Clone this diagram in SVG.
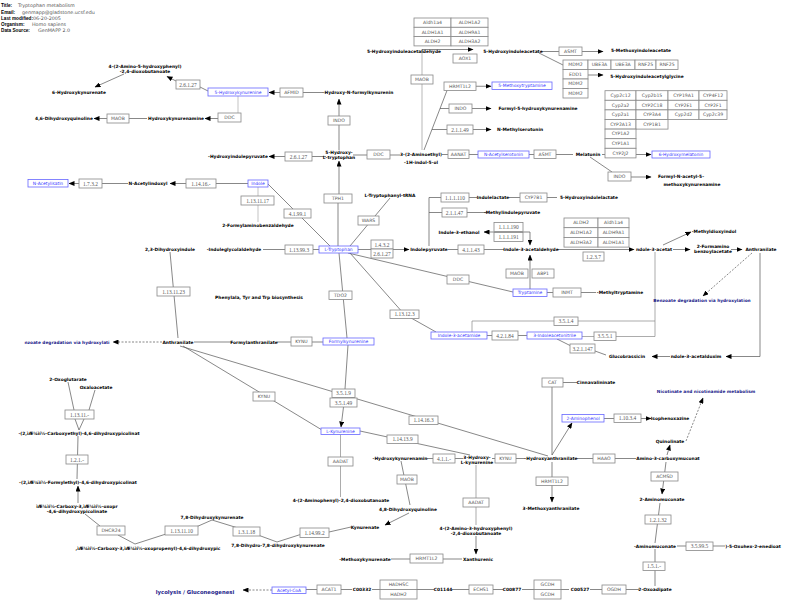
<svg xmlns="http://www.w3.org/2000/svg" width="788" height="606" viewBox="0 0 788 606">
<style>
text{font-family:"DejaVu Sans",sans-serif;text-anchor:middle;dominant-baseline:central}
.m text{font-size:4.4px;font-weight:bold;fill:#000}
.g rect{fill:#fff;stroke:#888;stroke-width:0.8}
.g text{font-size:4.6px;fill:#555}
.e text{font-family:"Liberation Serif",serif;font-size:5.4px}
.b rect{fill:#fff;stroke:#66f;stroke-width:0.8}
.b text{font-size:4.4px;fill:#33f}
.p text{font-size:4.3px;font-weight:bold;fill:#22228a}
.h text{text-anchor:start;dominant-baseline:auto;font-size:4.8px;fill:#555}
.h .k{font-family:"Liberation Sans",Arial,sans-serif;font-size:4.7px;font-weight:bold;fill:#000}
#conn path{fill:none;stroke:#555;stroke-width:0.7}
#conn .a{marker-end:url(#ah)}
#conn .d{stroke-dasharray:2,1.5}
</style>
<defs>
<marker id="ah" markerUnits="userSpaceOnUse" markerWidth="6" markerHeight="5" refX="5.5" refY="2.5" orient="auto"><path d="M0,0 L6,2.5 L0,5 z" fill="#000"/></marker>
</defs>
<rect width="788" height="606" fill="#fff"/>
<g id="header" class="h">
<text x="1" y="7"><tspan class="k">Title:</tspan><tspan x="18">Tryptophan metabolism</tspan></text>
<text x="1" y="13.5"><tspan class="k">Email:</tspan><tspan x="22">genmapp@gladstone.ucsf.edu</tspan></text>
<text x="1" y="19.5"><tspan class="k">Last modified:</tspan><tspan x="33">06-20-2005</tspan></text>
<text x="1" y="26"><tspan class="k">Organism:</tspan><tspan x="32">Homo sapiens</tspan></text>
<text x="1" y="32"><tspan class="k">Data Source:</tspan><tspan x="38">GenMAPP 2.0</tspan></text>
</g>
<g id="conn">
<path d="M200,87 L208,91"/>
<path d="M303,92.5 L323,92.5"/>
<path d="M238,96 L238,113" style="stroke:#aaa"/>
<path d="M147,118.5 L129,118.5"/>
<path d="M339,150 L339,125"/>
<path d="M312,156.5 L326,156.5"/>
<path d="M353,155 L367,155"/>
<path d="M390,155 L400,155"/>
<path d="M442,154.5 L448,154.5"/>
<path d="M469,154.5 L478,154.5"/>
<path d="M529,154.5 L534,154.5"/>
<path d="M556,154.5 L573,154.5"/>
<path d="M602,154.5 L605,154.5"/>
<path d="M590,157 L612,172"/>
<path d="M422,49.5 L422,150" style="stroke:#999"/>
<path d="M541,51.5 L559,51.5"/>
<path d="M539,53 L563,65"/>
<path d="M424,150 L447,90.5"/>
<path d="M440,108.5 L449,108.5"/>
<path d="M432,129.5 L447,129.5"/>
<path d="M248,183.5 L216,183.5"/>
<path d="M128,183.5 L102,183.5"/>
<path d="M258,187 L258,222" style="stroke:#aaa"/>
<path d="M268,184 L330,246"/>
<path d="M338,203 L338,246"/>
<path d="M390,198 L350,246"/>
<path d="M319,249.5 L263,249.5"/>
<path d="M358,249.5 L371,249.5"/>
<path d="M429,197.5 L429,246 M429,197.5 L441,197.5 M429,212.5 L442,212.5"/>
<path d="M469,197.5 L477,197.5 M509,197.5 L520,197.5 M547,197.5 L557,197.5"/>
<path d="M467,212.5 L487,212.5"/>
<path d="M448,249.5 L504,249.5"/>
<path d="M348,253 L513,292"/>
<path d="M547,292.5 L596,292.5"/>
<path d="M350,253 L404,314 L436,332"/>
<path d="M487,335.5 L527,335.5"/>
<path d="M472,332 L472,321 L655,321" style="stroke:#888"/>
<path d="M582,336.5 L655,336.5 M655,252 L655,336.5" style="stroke:#888"/>
<path d="M557,339 L571,346 M595,351 L606,355"/>
<path class="a" d="M760,253 L760,356.5 L726,356.5"/>
<path class="a" d="M670,356.5 L652,356.5"/>
<path d="M170,252 L178,338"/>
<path d="M194,342 L231,342 M277,342 L323,342"/>
<path d="M348,345 L345,389"/>
<path d="M339,253 L347,338"/>
<path d="M180,346 L548,456"/>
<path d="M183,346 L322,430"/>
<path d="M360,431 L470,455"/>
<path d="M340.5,434.5 L340.5,497" style="stroke:#888"/>
<path d="M427,458.5 L463,458.5 M492,458.5 L525,458.5"/>
<path d="M401,461 L410,505"/>
<path d="M476,465 L476,525" style="stroke:#888"/>
<path d="M462,559 L391,559"/>
<path d="M552,387 L552,455"/>
<path d="M563,382.5 L577,382.5"/>
<path d="M577,458.5 L636,458.5"/>
<path d="M660,503 L655,543"/>
<path d="M677,546 L725,546"/>
<path d="M655,549 L655,586"/>
<path d="M306,589.5 L352,589.5 M372,589.5 L434,589.5 M452,589.5 L503,589.5 M522,589.5 L569,589.5 M590,589.5 L639,589.5"/>
<path d="M68,382 L74,410 M95,390 L89,410 M75,419 L79,430 M84,419 L79,430"/>
<path d="M78,436 L77,479"/>
<path d="M85,514 L100,526 M118,535 L135,544 L166,534"/>
<path d="M196,527 L212,520 L238,528 M258,535 L277,542 L302,534 M329,532 L351,527"/>
<path class="a" d="M176,81 L167,76.5"/>
<path class="a" d="M124,74 L95,87"/>
<path class="a" d="M280,92.5 L269,92.5"/>
<path class="a" d="M218,118.5 L205,118.5"/>
<path class="a" d="M107,118.5 L94,118.5"/>
<path class="a" d="M339,116 L339,99"/>
<path class="a" d="M285,156.5 L269,156.5"/>
<path class="a" d="M339,194 L339,161"/>
<path class="a" d="M636,154.5 L651,154.5"/>
<path class="a" d="M631,177 L651,177"/>
<path class="a" d="M422,49.5 L473,49.5"/>
<path class="a" d="M582,51.5 L603,51.5"/>
<path class="a" d="M588,75 L603,75"/>
<path class="a" d="M476,86.25 L491,86.25"/>
<path class="a" d="M472,108.5 L491,108.5"/>
<path class="a" d="M473,129.5 L491,129.5"/>
<path class="a" d="M186,183.5 L170,183.5"/>
<path class="a" d="M79,183.5 L69,183.5"/>
<path class="a" d="M393,249.5 L409,249.5"/>
<path class="a" d="M530,232 L530,245"/>
<path class="a" d="M530,232 L484,232"/>
<path class="a" d="M530,289 L530,255"/>
<path class="a" d="M557,249.5 L634,249.5"/>
<path class="a" d="M663,245 L691,232"/>
<path class="a" d="M673,249.5 L690,249.5"/>
<path class="a" d="M731,249.5 L742,249.5"/>
<path class="a" d="M343.5,407 L341,427"/>
<path class="a" d="M409,513 L385,525"/>
<path class="a" d="M476,536 L476,554"/>
<path class="a" d="M552,455 L572,423"/>
<path class="a" d="M552,462 L552,502"/>
<path class="a" d="M604,418.5 L651,418.5"/>
<path class="a" d="M667,455 L670,445"/>
<path class="a" d="M666,462 L662,494"/>
<path class="a" d="M78,503 L78,486"/>
<path class="a d" d="M752,253 L703,296"/>
<path class="a d" d="M162,342 L113,342"/>
<path class="a d" d="M686,441 L703,398"/>
<path class="a d" d="M272,590 L243,590"/>
</g>
<g id="n_261a" class="g e"><rect x="176" y="80" width="24" height="9"/><text x="188" y="84.5">2.6.1.27</text></g>
<g id="n_maob1" class="g"><rect x="107" y="114" width="22" height="9"/><text x="118" y="118.5">MAOB</text></g>
<g id="n_1732" class="g e"><rect x="79" y="179" width="23" height="9"/><text x="90.5" y="183.5">1.7.3.2</text></g>
<g id="n_11416" class="g e"><rect x="186" y="179" width="30" height="9"/><text x="201" y="183.5">1.14.16.-</text></g>
<g id="n_ddc1" class="g"><rect x="218" y="113" width="23" height="9"/><text x="229.5" y="117.5">DDC</text></g>
<g id="n_afmid" class="g"><rect x="280" y="88" width="23" height="9"/><text x="291.5" y="92.5">AFMID</text></g>
<g id="n_indo1" class="g"><rect x="328" y="116" width="22" height="9"/><text x="339" y="120.5">INDO</text></g>
<g id="n_261b" class="g e"><rect x="285" y="152" width="27" height="9"/><text x="298.5" y="156.5">2.6.1.27</text></g>
<g id="n_ddc2" class="g"><rect x="367" y="150" width="23" height="9"/><text x="378.5" y="154.5">DDC</text></g>
<g id="n_tph1" class="g"><rect x="324" y="194" width="28" height="9"/><text x="338" y="198.5">TPH1</text></g>
<g id="n_1131117" class="g e"><rect x="241" y="196" width="33" height="9"/><text x="257.5" y="200.5">1.13.11.17</text></g>
<g id="n_aldhgrid1" class="g">
<rect x="414" y="18" width="37" height="9.3"/><text x="432.5" y="22.7">Aldh1a4</text>
<rect x="451" y="18" width="37" height="9.3"/><text x="469.5" y="22.7">ALDH1A2</text>
<rect x="414" y="27.3" width="37" height="9.3"/><text x="432.5" y="32">ALDH1A1</text>
<rect x="451" y="27.3" width="37" height="9.3"/><text x="469.5" y="32">ALDH9A1</text>
<rect x="414" y="36.6" width="37" height="9.3"/><text x="432.5" y="41.3">ALDH2</text>
<rect x="451" y="36.6" width="37" height="9.3"/><text x="469.5" y="41.3">ALDH3A2</text>
</g>
<g id="n_aox1" class="g"><rect x="453" y="54" width="24" height="9"/><text x="465" y="58.5">AOX1</text></g>
<g id="n_maob2" class="g"><rect x="411" y="75" width="22" height="9"/><text x="422" y="79.5">MAOB</text></g>
<g id="n_hrmt1" class="g"><rect x="444" y="82" width="32" height="8.5"/><text x="460" y="86.25">HRMT1L2</text></g>
<g id="n_indo2" class="g"><rect x="449" y="104" width="23" height="9"/><text x="460.5" y="108.5">INDO</text></g>
<g id="n_21149" class="g e"><rect x="447" y="125" width="26" height="9"/><text x="460" y="129.5">2.1.1.49</text></g>
<g id="n_aanat" class="g"><rect x="448" y="150" width="21" height="8.5"/><text x="458.5" y="154.25">AANAT</text></g>
<g id="n_asmt1" class="g"><rect x="534" y="150" width="22" height="8.5"/><text x="545" y="154.25">ASMT</text></g>
<g id="n_asmt2" class="g"><rect x="559" y="47" width="23" height="8.5"/><text x="570.5" y="51.25">ASMT</text></g>
<g id="n_mdm2grid" class="g">
<rect x="563" y="60" width="25" height="9.5"/><text x="575.5" y="64.75">MDM2</text>
<rect x="588" y="60" width="23" height="9.5"/><text x="599.5" y="64.75">UBE3A</text>
<rect x="611" y="60" width="24" height="9.5"/><text x="623" y="64.75">UBE3A</text>
<rect x="635" y="60" width="21" height="9.5"/><text x="645.5" y="64.75">RNF25</text>
<rect x="656" y="60" width="22" height="9.5"/><text x="667" y="64.75">RNF25</text>
<rect x="563" y="69.5" width="25" height="9.5"/><text x="575.5" y="74.25">EDD1</text>
<rect x="563" y="79" width="25" height="9.5"/><text x="575.5" y="83.75">MDM2</text>
<rect x="563" y="88.5" width="25" height="9.5"/><text x="575.5" y="93.25">MDM2</text>
</g>
<g id="n_cypgrid" class="g">
<rect x="605" y="90.7" width="31" height="9.6"/><text x="620.5" y="95.5">Cyp2c12</text>
<rect x="636" y="90.7" width="32" height="9.6"/><text x="652" y="95.5">Cyp2b15</text>
<rect x="668" y="90.7" width="31" height="9.6"/><text x="683.5" y="95.5">CYP19A1</text>
<rect x="699" y="90.7" width="28" height="9.6"/><text x="713" y="95.5">CYP4F12</text>
<rect x="605" y="100.3" width="31" height="9.6"/><text x="620.5" y="105.1">Cyp2a2</text>
<rect x="636" y="100.3" width="32" height="9.6"/><text x="652" y="105.1">CYP2C18</text>
<rect x="668" y="100.3" width="31" height="9.6"/><text x="683.5" y="105.1">CYP2E1</text>
<rect x="699" y="100.3" width="28" height="9.6"/><text x="713" y="105.1">CYP2F1</text>
<rect x="605" y="109.9" width="31" height="9.6"/><text x="620.5" y="114.7">Cyp2a1</text>
<rect x="636" y="109.9" width="32" height="9.6"/><text x="652" y="114.7">CYP3A4</text>
<rect x="668" y="109.9" width="31" height="9.6"/><text x="683.5" y="114.7">Cyp2d2</text>
<rect x="699" y="109.9" width="28" height="9.6"/><text x="713" y="114.7">Cyp2c39</text>
<rect x="605" y="119.5" width="31" height="9.6"/><text x="620.5" y="124.3">CYP2A13</text>
<rect x="636" y="119.5" width="32" height="9.6"/><text x="652" y="124.3">CYP1B1</text>
<rect x="605" y="129.1" width="31" height="9.6"/><text x="620.5" y="133.9">CYP1A2</text>
<rect x="605" y="138.7" width="31" height="9.6"/><text x="620.5" y="143.5">CYP1A1</text>
<rect x="605" y="148.3" width="31" height="9.6"/><text x="620.5" y="153.1">CYP2J2</text>
</g>
<g id="n_indo3" class="g"><rect x="608" y="172" width="23" height="9"/><text x="619.5" y="176.5">INDO</text></g>
<g id="n_111110" class="g e"><rect x="441" y="193" width="28" height="9"/><text x="455" y="197.5">1.1.1.110</text></g>
<g id="n_cyp7b1" class="g"><rect x="520" y="193" width="27" height="9"/><text x="533.5" y="197.5">CYP7B1</text></g>
<g id="n_21147" class="g e"><rect x="442" y="208" width="25" height="9"/><text x="454.5" y="212.5">2.1.1.47</text></g>
<g id="n_111190" class="g e"><rect x="494" y="222.5" width="29" height="9"/><text x="508.5" y="227">1.1.1.190</text></g>
<g id="n_111191" class="g e"><rect x="494" y="232.5" width="29" height="9"/><text x="508.5" y="237">1.1.1.191</text></g>
<g id="n_aldhgrid2" class="g">
<rect x="564" y="218" width="34" height="9.7"/><text x="581" y="222.85">ALDH2</text>
<rect x="598" y="218" width="31" height="9.7"/><text x="613.5" y="222.85">Aldh1a4</text>
<rect x="564" y="227.7" width="34" height="9.7"/><text x="581" y="232.55">ALDH1A2</text>
<rect x="598" y="227.7" width="31" height="9.7"/><text x="613.5" y="232.55">ALDH9A1</text>
<rect x="564" y="237.4" width="34" height="9.7"/><text x="581" y="242.25">ALDH3A2</text>
<rect x="598" y="237.4" width="31" height="9.7"/><text x="613.5" y="242.25">ALDH1A1</text>
</g>
<g id="n_1237" class="g e"><rect x="583" y="252" width="21" height="9"/><text x="593.5" y="256.5">1.2.3.7</text></g>
<g id="n_41143" class="g e"><rect x="458" y="245" width="26" height="9"/><text x="471" y="249.5">4.1.1.43</text></g>
<g id="n_113993" class="g e"><rect x="285" y="245" width="28" height="9"/><text x="299" y="249.5">1.13.99.3</text></g>
<g id="n_41991" class="g e"><rect x="284" y="209" width="27" height="9"/><text x="297.5" y="213.5">4.1.99.1</text></g>
<g id="n_wars" class="g"><rect x="358" y="216" width="21" height="9"/><text x="368.5" y="220.5">WARS</text></g>
<g id="n_1432" class="g e"><rect x="371" y="240" width="22" height="9"/><text x="382" y="244.5">1.4.3.2</text></g>
<g id="n_261c" class="g e"><rect x="371" y="249" width="22" height="9"/><text x="382" y="253.5">2.6.1.27</text></g>
<g id="n_maob3" class="g"><rect x="506" y="269" width="22" height="9"/><text x="517" y="273.5">MAOB</text></g>
<g id="n_abp1" class="g"><rect x="532" y="269" width="22" height="9"/><text x="543" y="273.5">ABP1</text></g>
<g id="n_ddc3" class="g"><rect x="447" y="275" width="22" height="9"/><text x="458" y="279.5">DDC</text></g>
<g id="n_inmt" class="g"><rect x="553" y="288" width="28" height="9"/><text x="567" y="292.5">INMT</text></g>
<g id="n_tdo2" class="g"><rect x="329" y="291" width="23" height="8.5"/><text x="340.5" y="295.25">TDO2</text></g>
<g id="n_1131123" class="g e"><rect x="157" y="287" width="33" height="9"/><text x="173.5" y="291.5">1.13.11.23</text></g>
<g id="n_113123" class="g e"><rect x="390" y="310" width="29" height="8.5"/><text x="404.5" y="314.25">1.13.12.3</text></g>
<g id="n_3514" class="g e"><rect x="554" y="317" width="24" height="8.5"/><text x="566" y="321.25">3.5.1.4</text></g>
<g id="n_42184" class="g e"><rect x="492" y="331" width="26" height="9"/><text x="505" y="335.5">4.2.1.84</text></g>
<g id="n_3551" class="g e"><rect x="594" y="332" width="22" height="8.5"/><text x="605" y="336.25">3.5.5.1</text></g>
<g id="n_321147" class="g e"><rect x="570" y="344" width="25" height="9"/><text x="582.5" y="348.5">3.2.1.147</text></g>
<g id="n_kynu1" class="g"><rect x="291" y="337" width="21" height="9"/><text x="301.5" y="341.5">KYNU</text></g>
<g id="n_cat" class="g"><rect x="542" y="378" width="21" height="9"/><text x="552.5" y="382.5">CAT</text></g>
<g id="n_3519" class="g e"><rect x="332" y="389" width="23" height="8.5"/><text x="343.5" y="393.25">3.5.1.9</text></g>
<g id="n_35149" class="g e"><rect x="330" y="398" width="27" height="9"/><text x="343.5" y="402.5">3.5.1.49</text></g>
<g id="n_kynu2" class="g"><rect x="253" y="392" width="22" height="9"/><text x="264" y="396.5">KYNU</text></g>
<g id="n_114163" class="g e"><rect x="409" y="416" width="29" height="8.5"/><text x="423.5" y="420.25">1.14.16.3</text></g>
<g id="n_11034" class="g e"><rect x="614" y="414" width="27" height="8.5"/><text x="627.5" y="418.25">1.10.3.4</text></g>
<g id="n_11311x" class="g e"><rect x="65" y="410" width="29" height="9"/><text x="79.5" y="414.5">1.13.11.-</text></g>
<g id="n_114139" class="g e"><rect x="387" y="435" width="31" height="8.5"/><text x="402.5" y="439.25">1.14.13.9</text></g>
<g id="n_411x" class="g e"><rect x="433" y="454" width="22" height="9"/><text x="444" y="458.5">4.1.1.-</text></g>
<g id="n_kynu3" class="g"><rect x="495" y="454" width="21" height="9"/><text x="505.5" y="458.5">KYNU</text></g>
<g id="n_haao" class="g"><rect x="593" y="454" width="22" height="9"/><text x="604" y="458.5">HAAO</text></g>
<g id="n_aadat1" class="g"><rect x="328" y="457" width="25" height="9"/><text x="340.5" y="461.5">AADAT</text></g>
<g id="n_maob4" class="g"><rect x="397" y="475" width="20" height="9"/><text x="407" y="479.5">MAOB</text></g>
<g id="n_hrmt2" class="g"><rect x="536" y="477" width="32" height="8.5"/><text x="552" y="481.25">HRMT1L2</text></g>
<g id="n_acmsd" class="g"><rect x="651" y="472" width="27" height="9"/><text x="664.5" y="476.5">ACMSD</text></g>
<g id="n_121x" class="g e"><rect x="66" y="455" width="22" height="9"/><text x="77" y="459.5">1.2.1.-</text></g>
<g id="n_aadat2" class="g"><rect x="463" y="498" width="26" height="9"/><text x="476" y="502.5">AADAT</text></g>
<g id="n_12132" class="g e"><rect x="645" y="515" width="26" height="9"/><text x="658" y="519.5">1.2.1.32</text></g>
<g id="n_dhcr24" class="g"><rect x="97" y="526" width="28" height="9"/><text x="111" y="530.5">DHCR24</text></g>
<g id="n_1131110" class="g e"><rect x="165" y="526" width="33" height="9"/><text x="181.5" y="530.5">1.13.11.10</text></g>
<g id="n_13118" class="g e"><rect x="233" y="527" width="27" height="9"/><text x="246.5" y="531.5">1.3.1.18</text></g>
<g id="n_114992" class="g e"><rect x="300" y="528" width="29" height="9.5"/><text x="314.5" y="532.75">1.14.99.2</text></g>
<g id="n_35995" class="g e"><rect x="686" y="542" width="27" height="8.5"/><text x="699.5" y="546.25">3.5.99.5</text></g>
<g id="n_hrmt3" class="g"><rect x="410" y="554" width="33" height="9"/><text x="426.5" y="558.5">HRMT1L2</text></g>
<g id="n_151x" class="g e"><rect x="643" y="562" width="22" height="8.5"/><text x="654" y="566.25">1.5.1.-</text></g>
<g id="n_acat1" class="g"><rect x="317" y="585" width="24" height="9"/><text x="329" y="589.5">ACAT1</text></g>
<g id="n_hadh" class="g"><rect x="380" y="580" width="37" height="9.5"/><text x="398.5" y="584.75">HADHSC</text><rect x="380" y="589.5" width="37" height="9.5"/><text x="398.5" y="594.25">HADH2</text></g>
<g id="n_echs1" class="g"><rect x="469" y="585" width="24" height="9"/><text x="481" y="589.5">ECHS1</text></g>
<g id="n_gcdh" class="g"><rect x="534" y="580" width="27" height="9.5"/><text x="547.5" y="584.75">GCDH</text><rect x="534" y="589.5" width="27" height="9.5"/><text x="547.5" y="594.25">GCDH</text></g>
<g id="n_ogdh" class="g"><rect x="602" y="585" width="24" height="9"/><text x="614" y="589.5">OGDH</text></g>
<g id="b_nacetylisatin" class="b"><rect x="28" y="179.5" width="40" height="7.5"/><text x="48" y="183.25">N-Acetylisatin</text></g>
<g id="b_5hk" class="b"><rect x="208" y="88" width="60" height="8"/><text x="238" y="92">5-Hydroxykynurenine</text></g>
<g id="b_indole" class="b"><rect x="248" y="180" width="20" height="7"/><text x="258" y="183.5">Indole</text></g>
<g id="b_5mt" class="b"><rect x="492" y="82" width="60" height="7.5"/><text x="522" y="85.75">5-Methoxytryptamine</text></g>
<g id="b_nas" class="b"><rect x="478" y="151" width="51" height="7"/><text x="503.5" y="154.5">N-Acetylserotonin</text></g>
<g id="b_6hm" class="b"><rect x="652" y="151" width="58" height="7"/><text x="681" y="154.5">6-Hydroxymelatonin</text></g>
<g id="b_trp" class="b"><rect x="319" y="246" width="39" height="7"/><text x="338.5" y="249.5">L-Tryptophan</text></g>
<g id="b_tryptamine" class="b"><rect x="513" y="289" width="34" height="7.5"/><text x="530" y="292.75">Tryptamine</text></g>
<g id="b_fk" class="b"><rect x="323" y="338" width="51" height="7"/><text x="348.5" y="341.5">Formylkynurenine</text></g>
<g id="b_i3am" class="b"><rect x="431" y="332" width="56" height="7"/><text x="459" y="335.5">Indole-3-acetamide</text></g>
<g id="b_i3an" class="b"><rect x="527" y="332" width="55" height="7"/><text x="554.5" y="335.5">3-Indoleacetonitrile</text></g>
<g id="b_lkyn" class="b"><rect x="321" y="428" width="39" height="6.5"/><text x="340.5" y="431.25">L-Kynurenine</text></g>
<g id="b_2ap" class="b"><rect x="562" y="414.5" width="42" height="7.5"/><text x="583" y="418.25">2-Aminophenol</text></g>
<g id="b_acoa" class="b"><rect x="272" y="587" width="34" height="6.5"/><text x="289" y="590.25">Acetyl-CoA</text></g>
<g id="m_a5hpdb" class="m"><text x="145" y="66">4-(2-Amino-5-hydroxyphenyl)</text><text x="145" y="71">-2,4-dioxobutanoate</text></g>
<g id="m_6hkyn" class="m"><text x="79" y="92">6-Hydroxykynurenate</text></g>
<g id="m_46dhq" class="m"><text x="64" y="118.5">4,6-Dihydroxyquinoline</text></g>
<g id="m_hkyna" class="m"><text x="176" y="118.5">Hydroxykynurenamine</text></g>
<g id="m_nai" class="m"><text x="148" y="183.5">N-Acetylindoxyl</text></g>
<g id="m_hnfk" class="m"><text x="358" y="92.5">-Hydroxy-N-formylkynurenin</text></g>
<g id="m_5htp" class="m"><text x="339" y="152.5">5-Hydroxy-</text><text x="339" y="157.5">L-tryptophan</text></g>
<g id="m_hip" class="m"><text x="238" y="156.5">-Hydroxyindolepyruvate</text></g>
<g id="m_5hiaal" class="m"><text x="404" y="51.5">5-Hydroxyindoleacetaldehyde</text></g>
<g id="m_5hiaa" class="m"><text x="513" y="51.5">5-Hydroxyindoleacetate</text></g>
<g id="m_5miaa" class="m"><text x="641" y="50.5">5-Methoxyindoleacetate</text></g>
<g id="m_5hiag" class="m"><text x="647" y="76">5-Hydroxyindoleacetylglycine</text></g>
<g id="m_f5hk" class="m"><text x="538" y="108.5">Formyl-5-hydroxykynurenamine</text></g>
<g id="m_nms" class="m"><text x="520" y="129.5">N-Methylserotonin</text></g>
<g id="m_serot" class="m"><text x="421" y="154.5">3-(2-Aminoethyl)</text><text x="421" y="162.5">-1H-indol-5-ol</text></g>
<g id="m_mel" class="m"><text x="588" y="154.5">Melatonin</text></g>
<g id="m_fna5m" class="m"><text x="681" y="176">Formyl-N-acetyl-5-</text><text x="692" y="184.5">methoxykynurenamine</text></g>
<g id="m_trna" class="m"><text x="390" y="195.5">L-Tryptophanyl-tRNA</text></g>
<g id="m_il" class="m"><text x="493" y="197.5">Indolelactate</text></g>
<g id="m_5hil" class="m"><text x="589" y="197.5">5-Hydroxyindolelactate</text></g>
<g id="m_2fab" class="m"><text x="258" y="225">2-Formylaminobenzaldehyde</text></g>
<g id="m_mip" class="m"><text x="512" y="212.5">-Methylindolepyruvate</text></g>
<g id="m_i3e" class="m"><text x="459" y="232">Indole-3-ethanol</text></g>
<g id="m_ipyr" class="m"><text x="429" y="249.5">Indolepyruvate</text></g>
<g id="m_i3aal" class="m"><text x="531" y="249.5">Indole-3-acetaldehyde</text></g>
<g id="m_igla" class="m"><text x="234" y="249.5">-Indoleglycolaldehyde</text></g>
<g id="m_23dhi" class="m"><text x="170" y="249.5">2,3-Dihydroxyindole</text></g>
<g id="m_phe" class="m"><text x="259" y="297">Phenylala, Tyr and Trp biosynthesis</text></g>
<g id="m_mdi" class="m"><text x="714" y="231">-Methyldioxyindol</text></g>
<g id="m_i3a" class="m"><text x="654" y="249.5">ndole-3-acetat</text></g>
<g id="m_2fba" class="m"><text x="713" y="246">2-Formamino</text><text x="713" y="251">benzoylacetate</text></g>
<g id="m_anth2" class="m"><text x="761" y="249.5">Anthranilate</text></g>
<g id="m_nmt" class="m"><text x="620" y="292.5">-Methyltryptamine</text></g>
<g id="m_fanth" class="m"><text x="254" y="342">Formylanthranilate</text></g>
<g id="m_anth1" class="m"><text x="178" y="342">Anthranilate</text></g>
<g id="m_glucob" class="m"><text x="627" y="356.5">Glucobrassicin</text></g>
<g id="m_i3ao" class="m"><text x="696" y="356.5">ndole-3-acetaldoxim</text></g>
<g id="m_cinna" class="m"><text x="596" y="382.5">Cinnavalininate</text></g>
<g id="m_2og" class="m"><text x="68" y="379">2-Oxoglutarate</text></g>
<g id="m_oxa" class="m"><text x="96" y="387.5">Oxaloacetate</text></g>
<g id="m_isoph" class="m"><text x="670" y="418.5">Isophenoxazine</text></g>
<g id="m_quin" class="m"><text x="670" y="441">Quinolinate</text></g>
<g id="m_cedp" class="m"><text x="79" y="433.5">-(2,ìÆ¼ìí½-Carboxyethyl)-4,6-dihydroxypicolinat</text></g>
<g id="m_hkyna2" class="m"><text x="400" y="458.5">-Hydroxykynurenamin</text></g>
<g id="m_3hk" class="m"><text x="477" y="457">3-Hydroxy-</text><text x="477" y="462">L-kynurenine</text></g>
<g id="m_3ha" class="m"><text x="551" y="458.5">-Hydroxyanthranilate</text></g>
<g id="m_a3cm" class="m"><text x="668" y="458.5">Amino-3-carboxymuconat</text></g>
<g id="m_fedp" class="m"><text x="78" y="482">-(2,ìÆ¼ìí½-Formylethyl)-4,6-dihydroxypicolinat</text></g>
<g id="m_2am" class="m"><text x="662" y="499">2-Aminomuconate</text></g>
<g id="m_4apdb" class="m"><text x="341" y="500">4-(2-Aminophenyl)-2,4-dioxobutanoate</text></g>
<g id="m_3ma" class="m"><text x="551" y="508">3-Methoxyanthranilate</text></g>
<g id="m_48dhq" class="m"><text x="408" y="509">4,8-Dihydroxyquinoline</text></g>
<g id="m_coxdp" class="m"><text x="77" y="506">ìÆ¼ìí½-Carboxy-3,ìÆ¼ìí½-oxopr</text><text x="77" y="511">-4,6-dihydroxypicolinate</text></g>
<g id="m_78dhk" class="m"><text x="212" y="517">7,8-Dihydroxykynurenate</text></g>
<g id="m_kyna" class="m"><text x="365" y="527">Kynurenate</text></g>
<g id="m_a3hpdb" class="m"><text x="476" y="528">4-(2-Amino-3-hydroxyphenyl)</text><text x="476" y="533">-2,4-dioxobutanoate</text></g>
<g id="m_78dh" class="m"><text x="278" y="545.5">7,8-Dihydro-7,8-dihydroxykynurenate</text></g>
<g id="m_am2" class="m"><text x="655" y="546">-Aminomuconate</text></g>
<g id="m_oxoh" class="m"><text x="753" y="546">)-5-Oxohex-2-enedioat</text></g>
<g id="m_coxpr" class="m"><text x="148" y="548">,ìÆ¼ìí½-Carboxy-3,ìÆ¼ìí½-oxopropenyl)-4,6-dihydroxypic</text></g>
<g id="m_8mk" class="m"><text x="365" y="559">-Methoxykynurenate</text></g>
<g id="m_xan" class="m"><text x="478" y="559">Xanthurenic</text></g>
<g id="m_c00332" class="m"><text x="362" y="589.5">C00332</text></g>
<g id="m_c01144" class="m"><text x="443" y="589.5">C01144</text></g>
<g id="m_c00877" class="m"><text x="512" y="589.5">C00877</text></g>
<g id="m_c00527" class="m"><text x="580" y="589.5">C00527</text></g>
<g id="m_2oxoad" class="m"><text x="655" y="589.5">2-Oxoadipate</text></g>
<g id="p_benz1" class="p"><text x="702" y="300">Benzoate degradation via hydroxylation</text></g>
<g id="p_benz2" class="p"><text x="67" y="342">nzoate degradation via hydroxylati</text></g>
<g id="p_nic" class="p"><text x="706" y="391">Nicotinate and nicotinamide metabolism</text></g>
<g id="p_gly" class="p"><text x="195" y="592" style="font-size:5.3px">lycolysis / Gluconeogenesi</text></g>
</svg>
